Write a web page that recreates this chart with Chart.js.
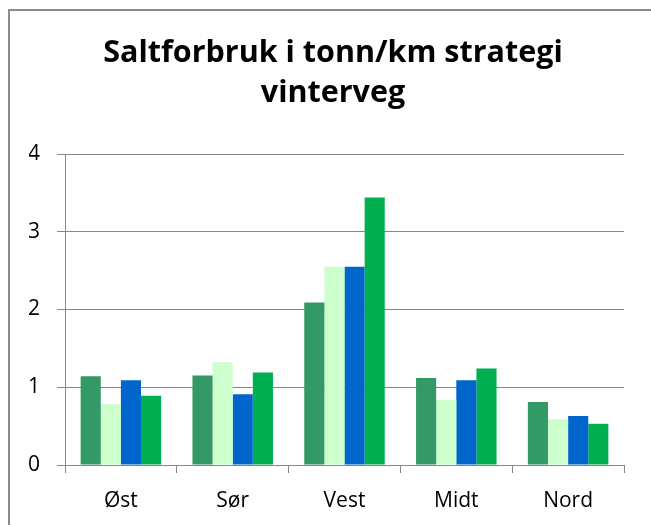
<!DOCTYPE html>
<html>
<head>
<meta charset="utf-8">
<script src="https://cdn.jsdelivr.net/npm/chart.js@4"></script>
<style>
  html, body { margin: 0; padding: 0; background: #fff; }
  #wrap { position: relative; width: 651px; height: 525px; overflow: hidden; }
  #frame { position: absolute; left: 8px; top: 9px; width: 700px; height: 600px;
           border-left: 2px solid #8c8c8c; border-top: 2px solid #8c8c8c; }
  canvas { position: absolute; left: 0; top: 0; }
</style>
</head>
<body>
<div id="wrap">
  <div id="frame"></div>
  <canvas id="chart" width="651" height="525"></canvas>
</div>
<script>
const regions = ['Øst', 'Sør', 'Vest', 'Midt', 'Nord'];
const series1 = [1.14, 1.15, 2.09, 1.12, 0.81];
const series2 = [0.78, 1.32, 2.55, 0.84, 0.59];
const series3 = [1.09, 0.91, 2.55, 1.09, 0.63];
const series4 = [0.89, 1.19, 3.44, 1.24, 0.53];
const yMax = 4;
const yStep = 1;
const titleLines = ['Saltforbruk i tonn/km strategi', 'vinterveg'];

const colors = ['#339966', '#ccffcc', '#0066cc', '#00b050'];
const seriesArr = [series1, series2, series3, series4];

const ctx = document.getElementById('chart').getContext('2d');

const datasets = seriesArr.map((s, i) => ({
  label: 'Serie ' + (i + 1),
  data: s,
  backgroundColor: colors[i],
  borderWidth: 0
}));

// title sits a little right of the canvas centre in the original, so draw it by hand
const titlePlugin = {
  id: 'manualTitle',
  afterDraw(chart) {
    const c = chart.ctx;
    c.save();
    c.font = 'bold 30.5px "Open Sans"';
    c.fillStyle = '#000';
    c.textAlign = 'center';
    c.textBaseline = 'middle';
    titleLines.forEach((t, i) => c.fillText(t, 333, 53 + i * 40));
    c.restore();
  }
};

// y axis takes exactly this width so the plot starts at x = 65
const yAxisWidth = 36;

new Chart(ctx, {
  type: 'bar',
  data: { labels: regions, datasets: datasets },
  plugins: [titlePlugin],
  options: {
    responsive: false,
    animation: false,
    devicePixelRatio: 1,
    layout: { padding: { left: 65 - yAxisWidth, right: 27, top: 154, bottom: 0 } },
    datasets: { bar: { categoryPercentage: 0.72, barPercentage: 1 } },
    plugins: {
      legend: { display: false },
      tooltip: { enabled: false },
      title: { display: false }
    },
    scales: {
      x: {
        grid: {
          drawOnChartArea: false,
          color: '#868686',
          tickLength: 8,
          tickColor: '#868686'
        },
        border: { color: '#868686', width: 1 },
        ticks: {
          color: '#000',
          font: { family: 'Open Sans', size: 21 },
          padding: 15
        },
        afterFit: s => { s.height = 60; }
      },
      y: {
        min: 0,
        max: yMax,
        grid: {
          color: '#868686',
          tickLength: 8,
          tickColor: '#868686'
        },
        border: { color: '#868686', width: 1 },
        ticks: {
          stepSize: yStep,
          color: '#000',
          font: { family: 'Open Sans', size: 21 },
          padding: 17
        },
        afterFit: s => { s.width = yAxisWidth; }
      }
    }
  }
});
</script>
</body>
</html>
